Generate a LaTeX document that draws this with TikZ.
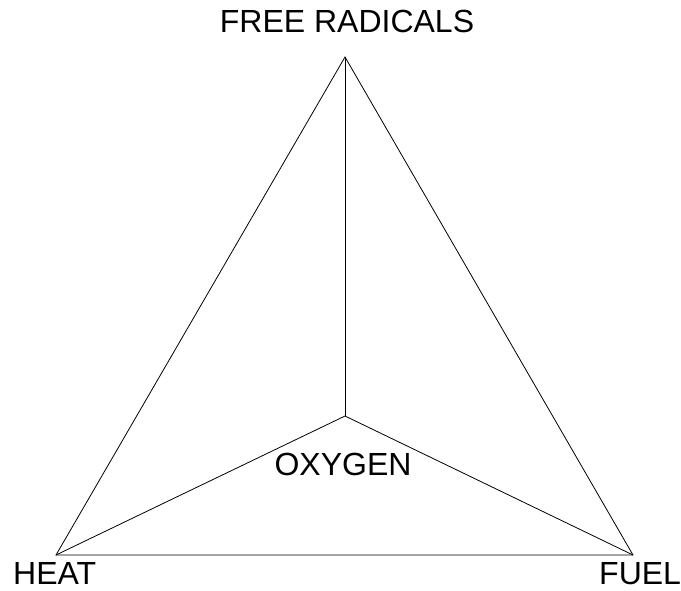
\documentclass[tikz,border=0pt]{standalone}
\usepackage{fontspec}
\setmainfont{Liberation Sans}
\tikzset{
    edge/.style={line width=0.8pt, black},
    lbl/.style={font=\fontsize{32}{38}\selectfont, inner sep=0pt, text depth=0pt, anchor=base}
}
\begin{document}
\begin{tikzpicture}[x=1pt, y=-1pt]
    \useasboundingbox (0,0) rectangle (681,590);
    % corners of the fire tetrahedron
    \coordinate (radicals) at (345,57);
    \coordinate (heat) at (56,555);
    \coordinate (fuel) at (633,555);
    \coordinate (oxygen) at (345,416);

    % outer triangle
    \draw[edge] (radicals) -- (heat) -- (fuel) -- cycle;
    % edges to the middle
    \draw[edge] (oxygen) -- (radicals);
    \draw[edge] (oxygen) -- (heat);
    \draw[edge] (oxygen) -- (fuel);

    % labels
    \node[lbl] (radicalstext) at (347,32) {FREE RADICALS};
    \node[lbl, anchor=base west] (heattext) at (13,584) {HEAT};
    \node[lbl, anchor=base west] (fueltext) at (599,584) {FUEL};
    \node[lbl] (oxygentext) at (343,475) {OXYGEN};
\end{tikzpicture}
\end{document}
